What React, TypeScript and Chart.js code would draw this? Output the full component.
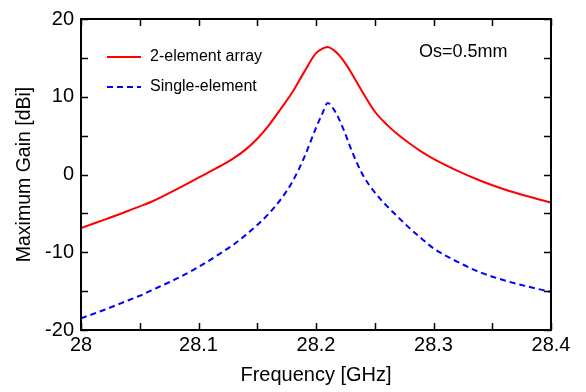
import React, { useEffect, useRef } from "react";
import { Chart, registerables } from "chart.js";

Chart.register(...registerables);

const freqs = [
  28.0, 28.02, 28.04, 28.05, 28.06, 28.08, 28.1, 28.12, 28.13, 28.14, 28.15, 28.16, 28.17, 28.18,
  28.19, 28.2, 28.205, 28.21, 28.215, 28.22, 28.225, 28.23, 28.24, 28.25, 28.26, 28.27, 28.28,
  28.29, 28.3, 28.32, 28.34, 28.36, 28.38, 28.4,
];
const arrayGain = [
  -6.9, -5.8, -4.7, -4.1, -3.5, -2.0, -0.4, 1.2, 2.1, 3.2, 4.6, 6.35, 8.45, 10.6,
  13.2, 15.6, 16.15, 16.4, 16.0, 15.3, 14.3, 13.1, 10.5, 8.1, 6.45, 5.1, 3.95,
  2.9, 2.0, 0.5, -0.8, -1.9, -2.8, -3.6,
];
const singleGain = [
  -18.5, -17.4, -16.2, -15.6, -14.9, -13.5, -11.9, -10.0, -9.0, -7.8, -6.5, -5.0, -3.2, -0.9,
  2.2, 6.0, 7.7, 9.2, 8.4, 7.0, 5.2, 3.2, -0.1, -2.3, -4.0, -5.5, -6.95,
  -8.25, -9.5, -11.2, -12.6, -13.6, -14.4, -15.1,
];
const seriesLabels = ["2-element array", "Single-element"];
const annotation = "Os=0.5mm";
const xTitle = "Frequency [GHz]";
const yTitle = "Maximum Gain [dBi]";

const FONT = "'Liberation Sans', Arial, sans-serif";

export default function App() {
  const ref = useRef<HTMLCanvasElement>(null);
  useEffect(() => {
    const canvas = ref.current!;
    const framePlugin = {
      id: "frame",
      afterDraw(chart: any) {
        const { ctx, chartArea: a, scales } = chart;
        const xs = scales.x, ys = scales.y;
        ctx.save();
        ctx.strokeStyle = "#000";
        ctx.lineWidth = 2;
        ctx.strokeRect(a.left, a.top, a.right - a.left, a.bottom - a.top);
        ctx.lineWidth = 1.5;
        const tl = 7;
        for (let i = 0; i <= 8; i++) {
          const v = 28 + i * 0.05;
          const px = Math.round(xs.getPixelForValue(v)) + 0.5;
          ctx.beginPath();
          ctx.moveTo(px, a.bottom);
          ctx.lineTo(px, a.bottom - tl);
          ctx.moveTo(px, a.top);
          ctx.lineTo(px, a.top + tl);
          ctx.stroke();
        }
        for (let i = 0; i <= 8; i++) {
          const v = -20 + i * 5;
          const py = Math.round(ys.getPixelForValue(v)) + 0.5;
          ctx.beginPath();
          ctx.moveTo(a.left, py);
          ctx.lineTo(a.left + tl, py);
          ctx.moveTo(a.right, py);
          ctx.lineTo(a.right - tl, py);
          ctx.stroke();
        }
        // legend
        ctx.font = `16px ${FONT}`;
        ctx.textBaseline = "middle";
        ctx.fillStyle = "#000";
        chart.data.datasets.forEach((ds: any, i: number) => {
          const y = 57 + i * 30;
          ctx.strokeStyle = ds.borderColor;
          ctx.lineWidth = 2;
          ctx.setLineDash(ds.borderDash || []);
          ctx.beginPath();
          ctx.moveTo(107, y);
          ctx.lineTo(141, y);
          ctx.stroke();
          ctx.setLineDash([]);
          ctx.fillText(ds.label, 150, y);
        });
        ctx.font = `18px ${FONT}`;
        ctx.fillText(annotation, 419, 52);
        ctx.restore();
      },
    };
    const chart = new Chart(canvas, {
      type: "line",
      data: {
        datasets: [
          {
            label: seriesLabels[0],
            data: freqs.map((f, i) => ({ x: f, y: arrayGain[i] })),
            borderColor: "#ff0000",
            borderWidth: 2,
            pointRadius: 0,
            cubicInterpolationMode: "monotone",
            fill: false,
          },
          {
            label: seriesLabels[1],
            data: freqs.map((f, i) => ({ x: f, y: singleGain[i] })),
            borderColor: "#0000ff",
            borderWidth: 2,
            borderDash: [6, 4],
            pointRadius: 0,
            cubicInterpolationMode: "monotone",
            fill: false,
          },
        ],
      },
      options: {
        responsive: false,
        animation: false,
        layout: { padding: { top: 15, right: 35, left: 0, bottom: 0 } },
        plugins: { legend: { display: false }, tooltip: { enabled: false } },
        scales: {
          x: {
            type: "linear",
            min: 28,
            max: 28.4,
            afterFit: (s: any) => { s.height = 62; },
            afterBuildTicks: (s: any) => {
              s.ticks = [28, 28.1, 28.2, 28.3, 28.4].map((v) => ({ value: v }));
            },
            ticks: {
              color: "#000",
              font: { family: FONT, size: 20 },
              padding: 3,
              maxRotation: 0,
              callback: (v: any) => String(Number(Number(v).toFixed(2))),
            },
            grid: { display: false, drawTicks: false },
            border: { display: false },
            title: {
              display: true,
              text: xTitle,
              color: "#000",
              font: { family: FONT, size: 20 },
              padding: { top: 0, bottom: 5 },
            },
          },
          y: {
            type: "linear",
            min: -20,
            max: 20,
            afterFit: (s: any) => { s.width = 81; },
            ticks: {
              stepSize: 10,
              color: "#000",
              font: { family: FONT, size: 20 },
              padding: 7,
            },
            grid: { display: false, drawTicks: false },
            border: { display: false },
            title: {
              display: true,
              text: yTitle,
              color: "#000",
              font: { family: FONT, size: 19.5 },
              padding: { top: 13, bottom: 0 },
            },
          },
        },
      },
      plugins: [framePlugin],
    } as any);
    return () => chart.destroy();
  }, []);
  return (
    <div style={{ position: "absolute", left: 0, top: 0, width: 586, height: 392, background: "#fff" }}>
      <canvas ref={ref} width={586} height={392} style={{ display: "block", width: 586, height: 392 }} />
    </div>
  );
}
